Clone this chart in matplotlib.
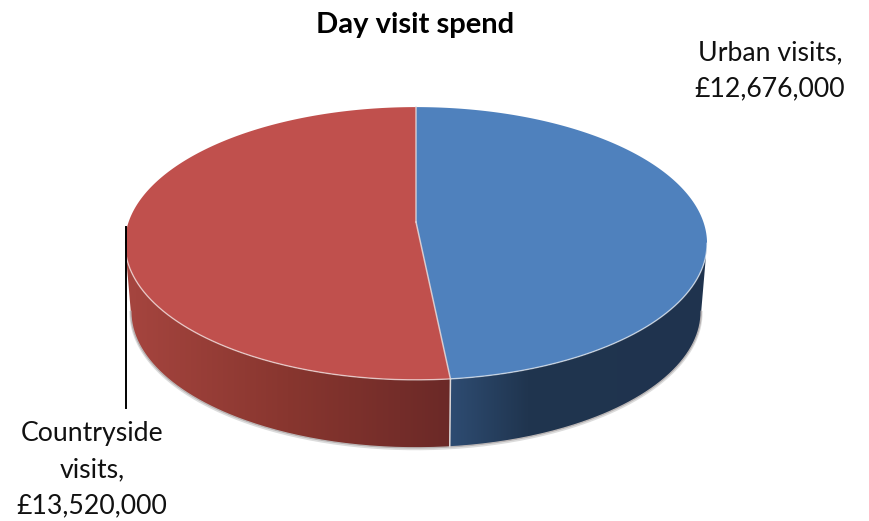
import numpy as np
import matplotlib
matplotlib.use("Agg")
import matplotlib.pyplot as plt
from matplotlib.colors import LinearSegmentedColormap
from matplotlib.patches import Polygon

# data
categories = ["Urban visits", "Countryside visits"]
spend = [12676000, 13520000]

top_colors = ["#4f81bd", "#c0504d"]
# gradient of the side wall, left to right across each slice
side_cmaps = [
    LinearSegmentedColormap.from_list("blue", [(0, "#2e4c72"), (0.3, "#20354f"), (1, "#1f334e")]),
    LinearSegmentedColormap.from_list("red", [(0, "#a6453f"), (0.5, "#88362f"), (1, "#6b2927")]),
]

plt.rcParams["font.family"] = ["Lato", "DejaVu Sans"]

# pie geometry, in pixels of the picture
cx, cy = 416, 222
a, b, k = 287.4, 133, 0.1575
depth = 68
bottom_scale = 0.98
wall_from, wall_to = 99, 261


def rim(t):
    # t in degrees clockwise from the top, circle seen in perspective
    r = np.radians(t)
    xx, yy = np.sin(r), np.cos(r)
    w = 1 + k * yy
    return cx + a * xx / w, cy - b * yy / w


def rim_low(t):
    # same rim at the bottom of the disc, a little narrower
    x, y = rim(t)
    return cx + (x - cx) * bottom_scale, y + depth


fig = plt.figure(figsize=(8.69, 5.21), dpi=100)
ax = fig.add_axes([0, 0, 1, 1])
ax.set_xlim(0, 869)
ax.set_ylim(521, 0)
ax.axis("off")

fracs = np.array(spend) / sum(spend)
edges = np.concatenate([[0], np.cumsum(fracs) * 360])

# soft shadow below the side wall
tt = np.linspace(wall_from, wall_to, 300)
x, y = rim_low(tt)
ax.plot(x, y + 1, color="#dcdcdc", lw=2.0, zorder=1)

# side wall: gradient image clipped to the visible band of each slice
for i in range(2):
    ts = np.linspace(max(edges[i], wall_from), min(edges[i + 1], wall_to), 200)
    xs, ys = rim(ts)
    xl, yl = rim_low(ts)
    band = np.column_stack([np.r_[xs, xl[::-1]], np.r_[ys, yl[::-1]]])
    patch = Polygon(band, closed=True, fc="none", ec="none", transform=ax.transData)
    ax.add_patch(patch)
    grad = np.linspace(0, 1, 256).reshape(1, -1)
    im = ax.imshow(grad, cmap=side_cmaps[i], aspect="auto", zorder=2,
                   extent=[min(xs.min(), xl.min()), max(xs.max(), xl.max()),
                           yl.max(), ys.min()])
    im.set_clip_path(patch)
ax.set_xlim(0, 869)
ax.set_ylim(521, 0)

# bottom edge drawn over the clipped images to smooth them
x, y = rim_low(tt)
ax.plot(x, y, color="#b9b4b4", lw=1.0, zorder=3)

# top faces
for i in range(2):
    ts = np.linspace(edges[i], edges[i + 1], 300)
    xs, ys = rim(ts)
    pts = np.column_stack([np.r_[cx, xs], np.r_[cy, ys]])
    ax.add_patch(Polygon(pts, closed=True, fc=top_colors[i], ec="none", zorder=3))

# pale edges
x, y = rim(tt)
ax.plot(x, y, color="white", lw=1.0, alpha=0.6, zorder=4)
for t in edges[:2]:
    ex, ey = rim(t)
    ax.plot([cx, ex], [cy, ey], color="#e6dcdc", lw=1.1, alpha=0.8, zorder=4)
ex, ey = rim(edges[1])
lx, ly = rim_low(edges[1])
ax.plot([ex, lx], [ey, ly], color="#dcd6d6", lw=1.1, zorder=4)

# labels
ax.text(415, 25, "Day visit spend", ha="center", va="center",
        fontsize=21, fontweight="bold", color="black")
ax.text(770, 71, f"{categories[0]},\n£{spend[0]:,}",
        ha="center", va="center", fontsize=19.2, linespacing=1.55, color="#111111")
ax.text(92, 470, f"Countryside\nvisits,\n£{spend[1]:,}",
        ha="center", va="center", fontsize=19.2, linespacing=1.55, color="#111111")
ax.plot([126, 126], [227, 408], color="black", lw=1.4, zorder=5)

fig.savefig("out.png", dpi=100)
